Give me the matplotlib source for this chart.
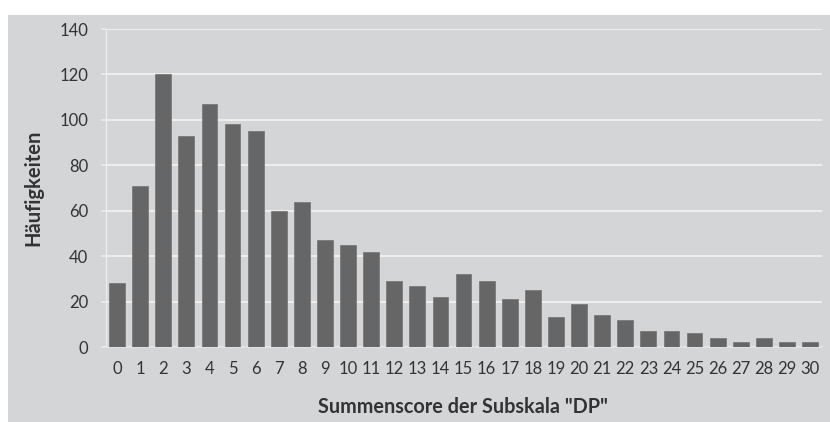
import matplotlib
matplotlib.use("Agg")
import matplotlib.pyplot as plt
from matplotlib.patches import Rectangle

categories = [str(i) for i in range(31)]
values = [28, 71, 120, 93, 107, 98, 95, 60, 64, 47, 45, 42, 29, 27, 22, 32, 29,
          21, 25, 13, 19, 14, 12, 7, 7, 6, 4, 2, 4, 2, 2]
yticks = [0, 20, 40, 60, 80, 100, 120, 140]
xlabel = 'Summenscore der Subskala "DP"'
ylabel = 'Häufigkeiten'

plt.rcParams['font.family'] = ['Lato', 'DejaVu Sans']

W, H = 830, 422
fig = plt.figure(figsize=(W / 100, H / 100), dpi=100)
fig.patch.set_facecolor('white')
bg = '#d4d5d7'
fig.add_artist(Rectangle((8 / W, 0), 1 - 8 / W, (H - 15) / H, transform=fig.transFigure,
                         facecolor=bg, edgecolor='none', zorder=0))

left, right = 105.5 / W, 821.6 / W
bottom, top = (H - 347) / H, (H - 29) / H
ax = fig.add_axes([left, bottom, right - left, top - bottom])
ax.set_facecolor(bg)

x = list(range(len(categories)))
ax.bar(x, values, width=0.68, color='#666666', edgecolor='#7a7a7a', linewidth=0.6, zorder=3)

ax.set_xlim(-0.5, len(categories) - 0.5)
ax.set_ylim(0, 140)
ax.set_yticks(yticks)
ax.set_xticks(x)
ax.set_xticklabels(categories)
ax.yaxis.grid(True, color='#efefef', linewidth=1.4, zorder=0)
ax.set_axisbelow(True)

for s in ['top', 'right']:
    ax.spines[s].set_visible(False)
ax.spines['left'].set_color('#ececec')
ax.spines['left'].set_linewidth(1.0)
ax.spines['bottom'].set_color('#e4e4e4')
ax.spines['bottom'].set_linewidth(1.2)

ax.tick_params(axis='y', length=3.6, color='#ececec', width=1.2, pad=9,
               labelsize=12, labelcolor='#333333')
ax.tick_params(axis='x', length=0, pad=10, labelsize=12, labelcolor='#333333')

axw = right - left
axh_px = 347 - 29
ax.set_xlabel(xlabel, fontsize=14.3, fontweight='bold', color='#333333')
ax.xaxis.label.set_verticalalignment('center')
ax.xaxis.set_label_coords((463 - 105.5) / (axw * W), (347 - 407) / axh_px)
ax.set_ylabel(ylabel, fontsize=14.5, fontweight='bold', color='#333333')
ax.yaxis.label.set_verticalalignment('center')
ax.yaxis.set_label_coords((33 - 105.5) / (axw * W), (347 - 187.5) / axh_px)

fig.savefig('out.png', dpi=100, facecolor=fig.get_facecolor())
